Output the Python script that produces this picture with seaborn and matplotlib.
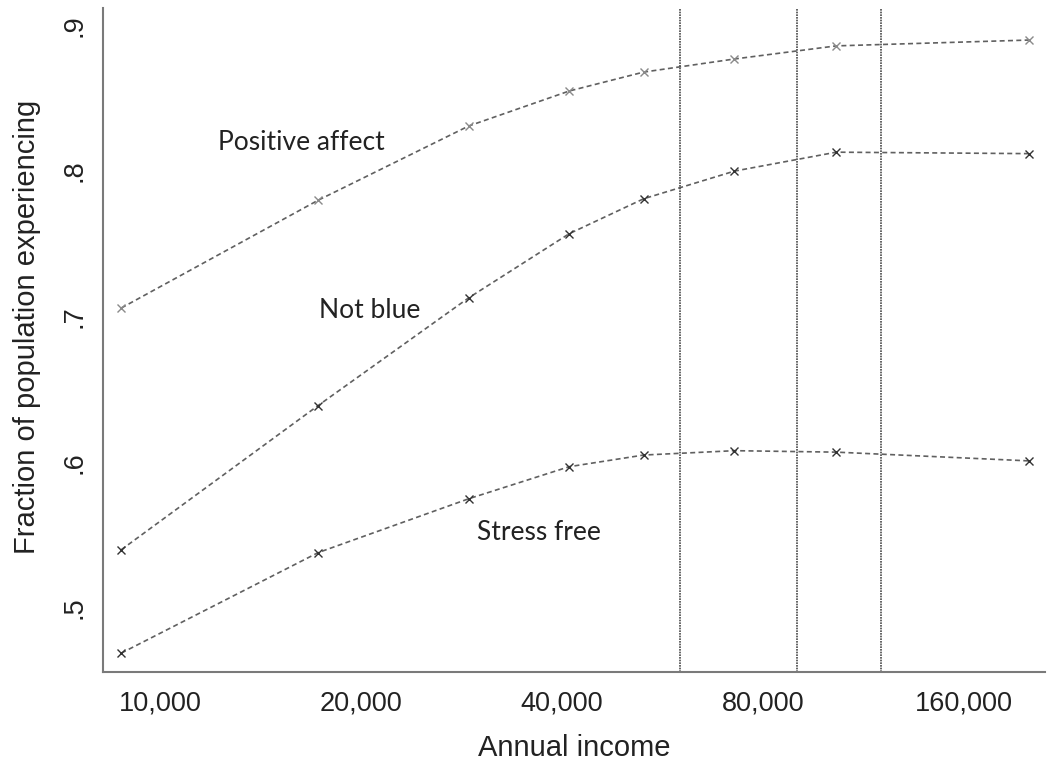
import pandas as pd
import matplotlib.pyplot as plt
import matplotlib.ticker as mticker
import seaborn as sns

sns.set_theme(style="white")
plt.rcParams['font.family'] = ['Liberation Sans', 'DejaVu Sans']

# income bin midpoints
income = [8750, 17250, 29000, 41000, 53000, 72500, 103000, 200000]
positive_affect = [0.706, 0.780, 0.831, 0.855, 0.868, 0.877, 0.886, 0.890]
not_blue = [0.540, 0.639, 0.713, 0.757, 0.781, 0.800, 0.813, 0.812]
stress_free = [0.469, 0.538, 0.575, 0.597, 0.605, 0.608, 0.607, 0.601]

cutoffs = [60000, 90000, 120000]
x_ticks = [10000, 20000, 40000, 80000, 160000]
y_ticks = [0.5, 0.6, 0.7, 0.8, 0.9]
y_tick_labels = ['.5', '.6', '.7', '.8', '.9']

df = pd.DataFrame({
    'income': income * 3,
    'frac': positive_affect + not_blue + stress_free,
    'series': ['Positive affect'] * len(income) + ['Not blue'] * len(income)
              + ['Stress free'] * len(income),
})

fig = plt.figure(figsize=(10.47, 7.64), dpi=100)
ax = fig.add_axes([0.0984, 0.1204, 0.8996, 0.8691])

marker_colors = {'Positive affect': '#8a8a8a', 'Not blue': '#333333', 'Stress free': '#333333'}
for name, grp in df.groupby('series', sort=False):
    sns.lineplot(data=grp, x='income', y='frac', ax=ax, color='#606060',
                 linewidth=1.2, dashes=False, linestyle=(0, (3, 2)),
                 marker='x', markersize=6, markeredgewidth=1.0,
                 markeredgecolor=marker_colors[name], legend=False)

for c in cutoffs:
    ax.axvline(c, color='#4a4a4a', linestyle=(0, (1, 0.6)), linewidth=1.2)

ax.set_xscale('log', base=2)
ax.set_xlim(8215, 211500)
ax.set_ylim(0.456, 0.912)
ax.set_xticks(x_ticks)
ax.xaxis.set_major_formatter(mticker.FuncFormatter(lambda v, p: f'{int(v):,}'))
ax.xaxis.set_minor_locator(mticker.NullLocator())
ax.set_yticks(y_ticks)
ax.set_yticklabels(y_tick_labels, rotation=90, va='center')

for side in ['top', 'right']:
    ax.spines[side].set_visible(False)
for side in ['left', 'bottom']:
    ax.spines[side].set_color('#7a7a7a')
    ax.spines[side].set_linewidth(1.5)

ax.tick_params(axis='both', which='major', direction='out', length=7, width=1.3,
               color='#7a7a7a', labelsize=19.5, labelcolor='#222222', pad=6)
ax.tick_params(axis='y', pad=4)

ax.set_xlabel('Annual income', fontsize=21, color='#222222', labelpad=13)
ax.set_ylabel('Fraction of population experiencing', fontsize=21, color='#222222', labelpad=15)
ax.yaxis.label.set_y(0.52)

label_font = ['Lato', 'DejaVu Sans']
ax.text(16300, 0.8196, 'Positive affect', fontsize=19, family=label_font, color='#222222',
        ha='center', va='center')
ax.text(20600, 0.704, 'Not blue', fontsize=19, family=label_font, color='#222222',
        ha='center', va='center')
ax.text(37000, 0.5515, 'Stress free', fontsize=19, family=label_font, color='#222222',
        ha='center', va='center')

fig.savefig('out.png', dpi=100)
